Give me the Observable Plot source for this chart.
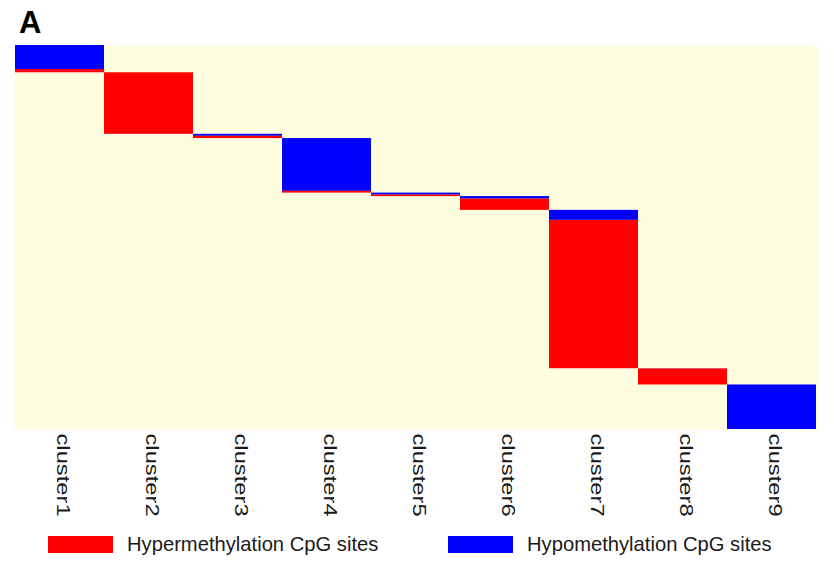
<!DOCTYPE html>
<html>
<head>
<meta charset="utf-8">
<script src="https://cdn.jsdelivr.net/npm/d3@7"></script>
<script src="https://cdn.jsdelivr.net/npm/@observablehq/plot@0.6"></script>
<style>
  html, body { margin: 0; padding: 0; background: #fff; }
  body { width: 834px; height: 572px; position: relative; overflow: hidden; font-family: "Liberation Sans", Arial, sans-serif; }
  #panel { position: absolute; left: 19px; top: 7px; font-size: 31px; font-weight: bold; color: #000; line-height: 1; }
  #chart { position: absolute; left: 0; top: 0; }
  .legend { position: absolute; top: 533px; display: flex; align-items: center; font-size: 20.2px; color: #1a1a1a; }
  .legend .sw { width: 65px; height: 17px; margin-right: 14px; }
</style>
</head>
<body>
<div id="chart"></div>
<div id="panel">A</div>
<div class="legend" style="left:48px"><div class="sw" style="background:#ff0000"></div><span>Hypermethylation CpG sites</span></div>
<div class="legend" style="left:448px"><div class="sw" style="background:#0000ff"></div><span>Hypomethylation CpG sites</span></div>
<script>
const clusters = ["cluster1","cluster2","cluster3","cluster4","cluster5","cluster6","cluster7","cluster8","cluster9"];
const hypoSites  = [96, 0, 8, 211, 8, 10, 40, 1, 178];
const hyperSites = [13, 246, 9, 7, 6, 45, 593, 64, 0];
const types = ["Hypermethylation CpG sites", "Hypomethylation CpG sites"];
const typeColors = ["#ff0000", "#0000ff"];

// stack: within each cluster hypo rows on top, then hyper rows; clusters in order down the heatmap
const rows = [];
let acc = 0;
clusters.forEach((c, i) => {
  rows.push({cluster: c, type: types[1], y1: acc, y2: acc + hypoSites[i]});
  acc += hypoSites[i];
  rows.push({cluster: c, type: types[0], y1: acc, y2: acc + hyperSites[i]});
  acc += hyperSites[i];
});
const total = acc;

const chart = Plot.plot({
  width: 834,
  height: 525,
  marginTop: 45,
  marginLeft: 14,
  marginRight: 17,
  marginBottom: 96,
  style: {background: "transparent", fontFamily: "'Liberation Sans', Arial, sans-serif", color: "#1a1a1a"},
  x: {domain: clusters, padding: 0, axis: null},
  y: {domain: [0, total], reverse: true, axis: null},
  color: {domain: types, range: typeColors},
  marks: [
    Plot.frame({fill: "#fefde0", stroke: null}),
    Plot.barY(rows.filter(r => r.y2 > r.y1), {x: "cluster", y1: "y1", y2: "y2", fill: "type", inset: 0}),
    Plot.text(clusters, {x: d => d, frameAnchor: "bottom", rotate: 90, textAnchor: "start", dx: -3, dy: 4, fontSize: 18, fill: "#1a1a1a", className: "clabel"})
  ]
});
document.getElementById("chart").appendChild(chart);
// stretch the rotated cluster labels along their reading direction, as in the reference
d3.select(chart).selectAll(".clabel text").each(function() {
  const t = this.getAttribute("transform") || "";
  this.setAttribute("transform", t + " scale(1.32,1)");
});
</script>
</body>
</html>
